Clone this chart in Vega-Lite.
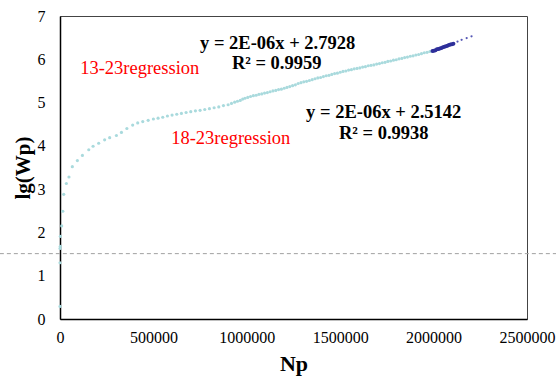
{
  "$schema": "https://vega.github.io/schema/vega-lite/v6.json",
  "width": 467,
  "height": 303,
  "autosize": {"type": "none"},
  "padding": {"left": 60, "top": 16, "right": 29, "bottom": 60},
  "background": "white",
  "config": {
    "view": {"stroke": "#444", "strokeWidth": 1},
    "font": "Liberation Serif"
  },
  "datasets": {
    "light": [
      {"Np": 0, "lgWp": 0.29}, {"Np": 0, "lgWp": 1.30}, {"Np": 0, "lgWp": 1.63}, {"Np": 1500, "lgWp": 1.68},
      {"Np": 2000, "lgWp": 1.91}, {"Np": 9000, "lgWp": 2.15}, {"Np": 15000, "lgWp": 2.49}, {"Np": 20000, "lgWp": 2.88},
      {"Np": 34000, "lgWp": 3.13}, {"Np": 48000, "lgWp": 3.28}, {"Np": 66000, "lgWp": 3.52}, {"Np": 93000, "lgWp": 3.66},
      {"Np": 120000, "lgWp": 3.78}, {"Np": 154000, "lgWp": 3.91}, {"Np": 177000, "lgWp": 3.99}, {"Np": 207000, "lgWp": 4.06},
      {"Np": 239000, "lgWp": 4.14}, {"Np": 266000, "lgWp": 4.19}, {"Np": 302000, "lgWp": 4.24}, {"Np": 329000, "lgWp": 4.31},
      {"Np": 358000, "lgWp": 4.40}, {"Np": 389000, "lgWp": 4.48}, {"Np": 416000, "lgWp": 4.53}, {"Np": 443000, "lgWp": 4.56},
      {"Np": 472000, "lgWp": 4.59}, {"Np": 500000, "lgWp": 4.62}, {"Np": 525000, "lgWp": 4.64}, {"Np": 550000, "lgWp": 4.66},
      {"Np": 575000, "lgWp": 4.69}, {"Np": 600000, "lgWp": 4.71}, {"Np": 625000, "lgWp": 4.73}, {"Np": 650000, "lgWp": 4.75},
      {"Np": 675000, "lgWp": 4.77}, {"Np": 700000, "lgWp": 4.79}, {"Np": 725000, "lgWp": 4.81}, {"Np": 750000, "lgWp": 4.82},
      {"Np": 775000, "lgWp": 4.84}, {"Np": 800000, "lgWp": 4.86}, {"Np": 825000, "lgWp": 4.88}, {"Np": 850000, "lgWp": 4.90},
      {"Np": 875000, "lgWp": 4.93}, {"Np": 900000, "lgWp": 4.95}, {"Np": 918000, "lgWp": 4.98}, {"Np": 935000, "lgWp": 5.01},
      {"Np": 950000, "lgWp": 5.03}, {"Np": 965000, "lgWp": 5.05}, {"Np": 978000, "lgWp": 5.08}, {"Np": 990000, "lgWp": 5.10},
      {"Np": 1005000, "lgWp": 5.12}, {"Np": 1020000, "lgWp": 5.14}, {"Np": 1035000, "lgWp": 5.16}, {"Np": 1050000, "lgWp": 5.17},
      {"Np": 1065000, "lgWp": 5.19}, {"Np": 1080000, "lgWp": 5.20}, {"Np": 1095000, "lgWp": 5.22}, {"Np": 1110000, "lgWp": 5.23},
      {"Np": 1125000, "lgWp": 5.25}, {"Np": 1140000, "lgWp": 5.27}, {"Np": 1155000, "lgWp": 5.28}, {"Np": 1170000, "lgWp": 5.30},
      {"Np": 1185000, "lgWp": 5.31}, {"Np": 1200000, "lgWp": 5.33}, {"Np": 1215000, "lgWp": 5.35}, {"Np": 1230000, "lgWp": 5.37},
      {"Np": 1245000, "lgWp": 5.39}, {"Np": 1260000, "lgWp": 5.41}, {"Np": 1275000, "lgWp": 5.44}, {"Np": 1290000, "lgWp": 5.46},
      {"Np": 1305000, "lgWp": 5.48}, {"Np": 1320000, "lgWp": 5.49}, {"Np": 1335000, "lgWp": 5.51}, {"Np": 1350000, "lgWp": 5.53},
      {"Np": 1365000, "lgWp": 5.55}, {"Np": 1380000, "lgWp": 5.57}, {"Np": 1395000, "lgWp": 5.58}, {"Np": 1410000, "lgWp": 5.60},
      {"Np": 1425000, "lgWp": 5.62}, {"Np": 1440000, "lgWp": 5.63}, {"Np": 1455000, "lgWp": 5.65}, {"Np": 1470000, "lgWp": 5.67},
      {"Np": 1485000, "lgWp": 5.68}, {"Np": 1500000, "lgWp": 5.70}, {"Np": 1515000, "lgWp": 5.72}, {"Np": 1530000, "lgWp": 5.73},
      {"Np": 1545000, "lgWp": 5.75}, {"Np": 1560000, "lgWp": 5.76}, {"Np": 1575000, "lgWp": 5.78}, {"Np": 1590000, "lgWp": 5.79},
      {"Np": 1605000, "lgWp": 5.80}, {"Np": 1620000, "lgWp": 5.82}, {"Np": 1635000, "lgWp": 5.83}, {"Np": 1650000, "lgWp": 5.85},
      {"Np": 1665000, "lgWp": 5.86}, {"Np": 1680000, "lgWp": 5.87}, {"Np": 1695000, "lgWp": 5.89}, {"Np": 1710000, "lgWp": 5.90},
      {"Np": 1725000, "lgWp": 5.92}, {"Np": 1740000, "lgWp": 5.93}, {"Np": 1755000, "lgWp": 5.95}, {"Np": 1770000, "lgWp": 5.96},
      {"Np": 1785000, "lgWp": 5.98}, {"Np": 1800000, "lgWp": 5.99}, {"Np": 1815000, "lgWp": 6.01}, {"Np": 1830000, "lgWp": 6.02},
      {"Np": 1845000, "lgWp": 6.04}, {"Np": 1860000, "lgWp": 6.05}, {"Np": 1875000, "lgWp": 6.07}, {"Np": 1890000, "lgWp": 6.08},
      {"Np": 1905000, "lgWp": 6.10}, {"Np": 1920000, "lgWp": 6.11}, {"Np": 1935000, "lgWp": 6.13}, {"Np": 1950000, "lgWp": 6.15},
      {"Np": 1965000, "lgWp": 6.16}, {"Np": 1980000, "lgWp": 6.18}, {"Np": 1995000, "lgWp": 6.19}
    ],
    "dark": [
      {"Np": 1994000, "lgWp": 6.19}, {"Np": 2002000, "lgWp": 6.20}, {"Np": 2010000, "lgWp": 6.21}, {"Np": 2018000, "lgWp": 6.23},
      {"Np": 2026000, "lgWp": 6.24}, {"Np": 2034000, "lgWp": 6.25}, {"Np": 2042000, "lgWp": 6.26}, {"Np": 2050000, "lgWp": 6.28},
      {"Np": 2058000, "lgWp": 6.29}, {"Np": 2066000, "lgWp": 6.30}, {"Np": 2074000, "lgWp": 6.31}, {"Np": 2082000, "lgWp": 6.33},
      {"Np": 2090000, "lgWp": 6.34}, {"Np": 2098000, "lgWp": 6.35}, {"Np": 2106000, "lgWp": 6.36}
    ],
    "sparse": [
      {"Np": 2128000, "lgWp": 6.41}, {"Np": 2150000, "lgWp": 6.45}, {"Np": 2177000, "lgWp": 6.49}, {"Np": 2203000, "lgWp": 6.53}
    ],
    "rule": [{"y": 1.51, "x1": -322000, "x2": 2660000}],
    "eqs": [
      {"Np": 1165000, "lgWp": 6.38, "label": "y = 2E-06x + 2.7928"},
      {"Np": 1160000, "lgWp": 5.92, "label": "R² = 0.9959"},
      {"Np": 1733000, "lgWp": 4.79, "label": "y = 2E-06x + 2.5142"},
      {"Np": 1733000, "lgWp": 4.30, "label": "R² = 0.9938"}
    ],
    "reds": [
      {"Np": 427000, "lgWp": 5.80, "label": "13-23regression"},
      {"Np": 914000, "lgWp": 4.19, "label": "18-23regression"}
    ]
  },
  "encoding": {
    "x": {
      "field": "Np", "type": "quantitative",
      "scale": {"domain": [0, 2500000], "nice": false, "zero": false},
      "axis": {
        "title": "Np", "values": [0, 500000, 1000000, 1500000, 2000000, 2500000], "format": "d",
        "grid": false, "ticks": false, "domainColor": "black", "domainWidth": 1.5,
        "labelFont": "Liberation Serif", "labelFontSize": 16, "labelColor": "black", "labelPadding": 10,
        "labelFlush": false, "labelOverlap": false,
        "titleFont": "Liberation Serif", "titleFontSize": 22, "titleFontWeight": "bold", "titleColor": "black", "titlePadding": 8
      }
    },
    "y": {
      "field": "lgWp", "type": "quantitative",
      "scale": {"domain": [0, 7], "nice": false, "zero": false},
      "axis": {
        "title": "lg(Wp)", "values": [0, 1, 2, 3, 4, 5, 6, 7],
        "grid": false, "ticks": false, "domainColor": "black", "domainWidth": 1.5,
        "labelFont": "Liberation Serif", "labelFontSize": 16, "labelColor": "black", "labelPadding": 15,
        "labelFlush": false, "labelOverlap": false,
        "titleFont": "Liberation Serif", "titleFontSize": 21, "titleFontWeight": "bold", "titleColor": "black", "titlePadding": 4
      }
    }
  },
  "layer": [
    {
      "data": {"name": "rule"},
      "mark": {"type": "rule", "color": "#a0a0a0", "strokeDash": [4, 3], "strokeWidth": 1, "clip": false},
      "encoding": {
        "x": {"field": "x1", "type": "quantitative"},
        "x2": {"field": "x2"},
        "y": {"field": "y", "type": "quantitative"}
      }
    },
    {
      "data": {"name": "light"},
      "mark": {"type": "circle", "color": "#a9dadd", "opacity": 1, "size": 10}
    },
    {
      "data": {"name": "dark"},
      "mark": {"type": "circle", "color": "#2e2f9a", "opacity": 1, "size": 16}
    },
    {
      "data": {"name": "sparse"},
      "mark": {"type": "circle", "color": "#5557b5", "opacity": 1, "size": 5}
    },
    {
      "data": {"name": "eqs"},
      "mark": {"type": "text", "font": "Liberation Serif", "fontSize": 18.5, "fontWeight": "bold", "color": "black", "align": "center", "baseline": "middle"},
      "encoding": {"text": {"field": "label"}}
    },
    {
      "data": {"name": "reds"},
      "mark": {"type": "text", "font": "Liberation Serif", "fontSize": 18.5, "color": "#ff0000", "align": "center", "baseline": "middle"},
      "encoding": {"text": {"field": "label"}}
    }
  ]
}
